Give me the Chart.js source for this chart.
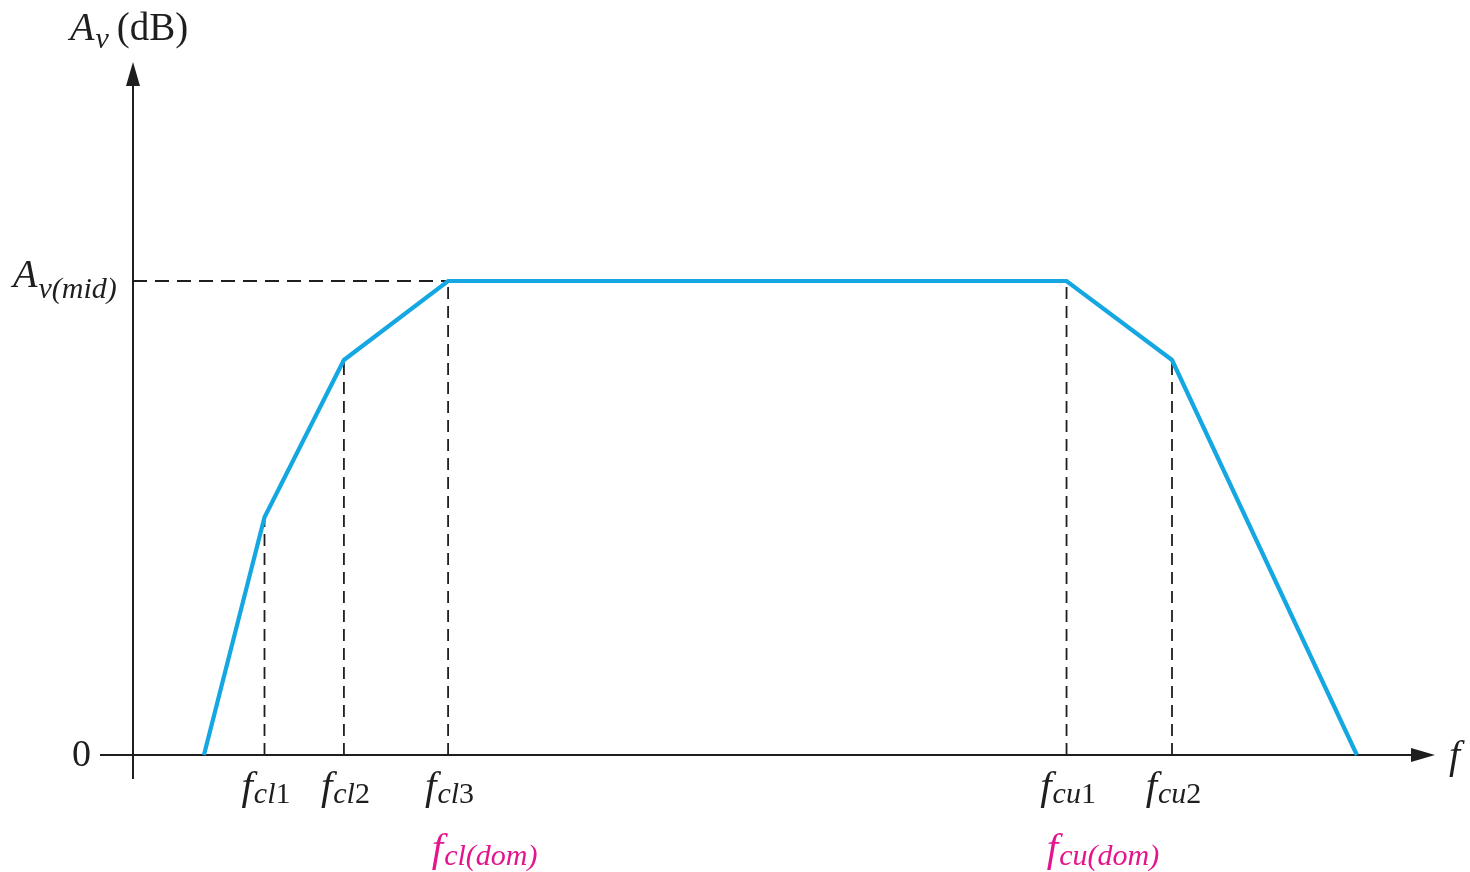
<!DOCTYPE html>
<html>
<head>
<meta charset="utf-8">
<script src="https://cdn.jsdelivr.net/npm/chart.js@4.4.1/dist/chart.umd.min.js"></script>
<style>
  html, body { margin: 0; padding: 0; background: #ffffff; }
  #wrap { width: 1470px; height: 872px; }
</style>
</head>
<body>
<div id="wrap"><canvas id="bode"></canvas></div>
<script>
// Breakpoints of the asymptotic response (frequency axis in relative units, gain in relative dB)
const freqX = [5.45, 10.1, 16.2, 24.2, 71.7, 79.8, 94.0];
const gainY = [0, 34.3, 57.0, 68.4, 68.4, 57.0, 0];
const midGain = 68.4;

// Critical-frequency labels (subscripts) and the index of the breakpoint each one marks
const cornerSubs = ['cl1', 'cl2', 'cl3', 'cu1', 'cu2'];
const cornerIdx = [1, 2, 3, 4, 5];
const domSubs = ['cl(dom)', 'cu(dom)'];
const domIdx = [3, 4];

const INK = '#1e1e1e';
const BLUE = '#15a7e2';
const MAGENTA = '#e4148c';
const SERIF = '"Liberation Serif", "DejaVu Serif", serif';

const responseData = freqX.map((x, i) => ({ x: x, y: gainY[i] }));

const guideSets = cornerIdx.map(i => ({
  data: [{ x: freqX[i], y: 0 }, { x: freqX[i], y: gainY[i] }],
  borderColor: INK, borderWidth: 1.8, borderDash: [12, 7],
  pointRadius: 0, fill: false, order: 2, clip: false
}));
guideSets.push({
  data: [{ x: 0, y: midGain }, { x: freqX[3], y: midGain }],
  borderColor: INK, borderWidth: 1.8, borderDash: [14, 8],
  pointRadius: 0, fill: false, order: 2, clip: false
});

// Writes a run of text where digits are upright and letters italic
function drawRun(ctx, text, x, y, size) {
  let cx = x;
  for (const ch of text) {
    ctx.font = (/[0-9]/.test(ch) ? '' : 'italic ') + size + 'px ' + SERIF;
    ctx.fillText(ch, cx, y);
    cx += ctx.measureText(ch).width;
  }
  return cx;
}
function runWidth(ctx, text, size) {
  let w = 0;
  for (const ch of text) {
    ctx.font = (/[0-9]/.test(ch) ? '' : 'italic ') + size + 'px ' + SERIF;
    w += ctx.measureText(ch).width;
  }
  return w;
}

// Draws main text with a lowered subscript, centred on x when centred is true
function drawSub(ctx, x, y, main, sub, mainSize, subSize, color, centred, drop) {
  ctx.fillStyle = color;
  ctx.textBaseline = 'alphabetic';
  ctx.textAlign = 'left';
  ctx.font = 'italic ' + mainSize + 'px ' + SERIF;
  const wm = ctx.measureText(main).width;
  const ws = runWidth(ctx, sub, subSize);
  const left = centred ? x - (wm + ws) / 2 : x;
  ctx.font = 'italic ' + mainSize + 'px ' + SERIF;
  ctx.fillText(main, left, y);
  return drawRun(ctx, sub, left + wm + 1, y + drop, subSize);
}

const axesPlugin = {
  id: 'bodeAxes',
  beforeDatasetsDraw(chart) {
    const ctx = chart.ctx;
    const xs = chart.scales.x, ys = chart.scales.y;
    const x0 = xs.getPixelForValue(0);
    const y0 = ys.getPixelForValue(0);
    const area = chart.chartArea;
    ctx.save();
    ctx.strokeStyle = INK;
    ctx.fillStyle = INK;
    ctx.lineWidth = 2;
    // horizontal axis
    ctx.beginPath();
    ctx.moveTo(x0 - 33, y0);
    ctx.lineTo(area.right - 14, y0);
    ctx.stroke();
    ctx.beginPath();
    ctx.moveTo(area.right, y0);
    ctx.lineTo(area.right - 24, y0 - 7);
    ctx.lineTo(area.right - 24, y0 + 7);
    ctx.closePath();
    ctx.fill();
    // vertical axis
    ctx.beginPath();
    ctx.moveTo(x0, y0 + 24);
    ctx.lineTo(x0, area.top + 14);
    ctx.stroke();
    ctx.beginPath();
    ctx.moveTo(x0, area.top);
    ctx.lineTo(x0 - 7, area.top + 24);
    ctx.lineTo(x0 + 7, area.top + 24);
    ctx.closePath();
    ctx.fill();
    ctx.restore();
  },
  afterDatasetsDraw(chart) {
    const ctx = chart.ctx;
    const xs = chart.scales.x, ys = chart.scales.y;
    const x0 = xs.getPixelForValue(0);
    const y0 = ys.getPixelForValue(0);
    const area = chart.chartArea;
    ctx.save();
    // vertical axis title
    const end = drawSub(ctx, 70, 40, 'A', 'v', 40, 30, INK, false, 8);
    ctx.font = '39px ' + SERIF;
    ctx.fillText('(dB)', end + 8, 40);
    // mid-band gain label
    drawSub(ctx, 13, 287, 'A', 'v(mid)', 40, 30, INK, false, 11);
    // zero label
    ctx.font = '38px ' + SERIF;
    ctx.textAlign = 'right';
    ctx.textBaseline = 'middle';
    ctx.fillText('0', x0 - 42, y0 + 1);
    // frequency axis title
    ctx.font = 'italic 40px ' + SERIF;
    ctx.textAlign = 'left';
    ctx.textBaseline = 'alphabetic';
    ctx.fillText('f', area.right + 14, y0 + 13);
    // corner frequency labels
    cornerSubs.forEach((s, k) => {
      const px = xs.getPixelForValue(freqX[cornerIdx[k]]);
      drawSub(ctx, px + 1, y0 + 44, 'f', s, 41, 30, INK, true, 4);
    });
    domSubs.forEach((s, k) => {
      const px = xs.getPixelForValue(freqX[domIdx[k]]);
      drawSub(ctx, px + 36, y0 + 106, 'f', s, 41, 30, MAGENTA, true, 4);
    });
    ctx.restore();
  }
};

new Chart(document.getElementById('bode'), {
  type: 'line',
  data: {
    datasets: [{
      data: responseData,
      borderColor: BLUE, borderWidth: 4.2, pointRadius: 0,
      tension: 0, fill: false, order: 0, clip: false,
      borderJoinStyle: 'miter'
    }].concat(guideSets)
  },
  options: {
    responsive: true,
    maintainAspectRatio: false,
    animation: false,
    layout: { padding: { left: 133, right: 35, top: 62, bottom: 117 } },
    plugins: { legend: { display: false }, tooltip: { enabled: false } },
    scales: {
      x: { type: 'linear', min: 0, max: 100, display: false },
      y: { type: 'linear', min: 0, max: 100, display: false }
    },
    events: []
  },
  plugins: [axesPlugin]
});
</script>
</body>
</html>
